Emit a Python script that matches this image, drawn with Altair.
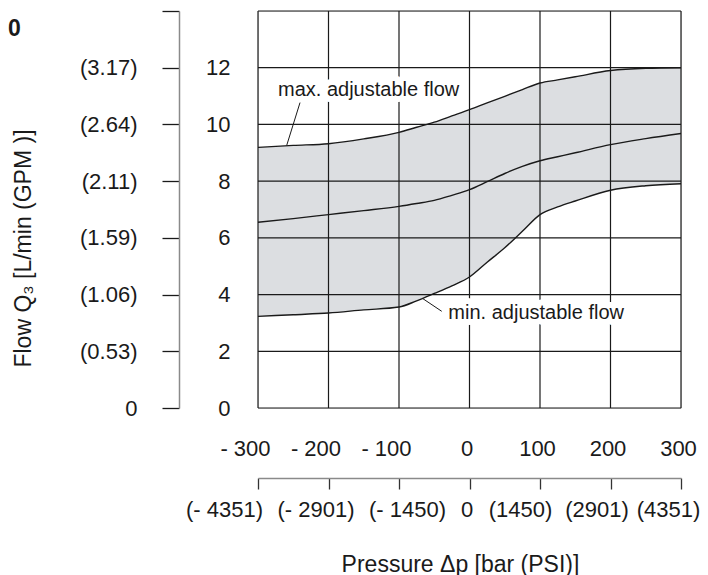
import json
import altair as alt
import pandas as pd

# ---------------- data ----------------
pressure_bar = [-300, -250, -200, -150, -100, -75, -50, -25, 0, 25, 50, 75, 100, 125, 150, 200, 250, 300]
flow_max = [9.19, 9.26, 9.32, 9.49, 9.72, 9.90, 10.08, 10.30, 10.52, 10.76, 10.99, 11.23, 11.46, 11.57, 11.68, 11.90, 11.98, 12.0]
flow_mid = [6.55, 6.68, 6.82, 6.96, 7.11, 7.21, 7.32, 7.50, 7.70, 7.98, 8.27, 8.52, 8.72, 8.86, 9.00, 9.29, 9.50, 9.68]
flow_min = [3.23, 3.29, 3.35, 3.46, 3.56, 3.78, 4.04, 4.31, 4.62, 5.14, 5.65, 6.23, 6.82, 7.09, 7.30, 7.68, 7.84, 7.91]

bar_ticks = [-300, -200, -100, 0, 100, 200, 300]
psi_labels = ["(- 4351)", "(- 2901)", "(- 1450)", "0", "(1450)", "(2901)", "(4351)"]
lmin_ticks = [0, 2, 4, 6, 8, 10, 12]
gpm_ticks = [0, 2, 4, 6, 8, 10, 12, 14]
gpm_labels = ["0", "(0.53)", "(1.06)", "(1.59)", "(2.11)", "(2.64)", "(3.17)", ""]
grid_x = [-300, -200, -100, 0, 100, 200, 300]
grid_y = [0, 2, 4, 6, 8, 10, 12, 14]

ann_text = ["max. adjustable flow", "min. adjustable flow"]
ann_x = [-271.6, -30.0]
ann_y = [11.23, 3.36]
leader_x1 = [-240.4, -66.4]
leader_y1 = [10.77, 3.86]
leader_x2 = [-259.3, -39.4]
leader_y2 = [9.26, 3.41]

# ---------------- style ----------------
FONT = "Liberation Sans"
INK = "#1a1a1a"
FILL = "#dcdee1"

df = pd.DataFrame({"p": pressure_bar, "qmin": flow_min, "qmid": flow_mid, "qmax": flow_max})
ann_df = pd.DataFrame({"t": ann_text, "x": ann_x, "y": ann_y})
lead_df = pd.DataFrame({"x1": leader_x1, "y1": leader_y1, "x2": leader_x2, "y2": leader_y2})
gx_df = pd.DataFrame({"gx": grid_x})
gy_df = pd.DataFrame({"gy": grid_y})

xs = alt.Scale(domain=[-300, 300], nice=False, zero=False)
ys = alt.Scale(domain=[0, 14], nice=False, zero=False)

bar_axis = alt.Axis(
    values=bar_ticks, ticks=False, domain=False, grid=False, title=None,
    labelExpr="datum.value < 0 ? '- ' + abs(datum.value) : '' + datum.value",
    labelPadding=30, labelFontSize=22, labelFont=FONT, labelColor=INK, labelAngle=0,
    labelOffset={"expr": "datum.value < 0 ? -13 : -3"}, labelOverlap=False, labelFlush=False,
)
lmin_axis = alt.Axis(
    values=lmin_ticks, ticks=False, domain=False, grid=False, title=None,
    labelPadding=28, labelFontSize=22, labelFont=FONT, labelColor=INK, labelOverlap=False,
    labelFlush=False,
)


def X(field):
    return alt.X(field, type="quantitative", scale=xs, axis=bar_axis)


def Y(field):
    return alt.Y(field, type="quantitative", scale=ys, axis=lmin_axis)


area = alt.Chart(df).mark_area(color=FILL, interpolate="monotone").encode(
    x=X("p"), y=Y("qmax"), y2="qmin:Q",
)

grid_v = alt.Chart(gx_df).mark_rule(color=INK, strokeWidth=1.2).encode(x=X("gx"))
grid_h = alt.Chart(gy_df).mark_rule(color=INK, strokeWidth=1.2).encode(y=Y("gy"))

lines = alt.Chart(df).transform_fold(["qmin", "qmid", "qmax"], as_=["series", "q"]).mark_line(
    interpolate="monotone", color=INK, strokeWidth=1.4
).encode(x=X("p"), y=Y("q"), detail="series:N")

leaders = alt.Chart(lead_df).mark_rule(color=INK, strokeWidth=1.0).encode(
    x=X("x1"), y=Y("y1"), x2="x2:Q", y2="y2:Q",
)

halo = alt.Chart(ann_df).mark_text(
    align="left", baseline="middle", font=FONT, fontSize=20, color="white",
    stroke="white", strokeWidth=12, strokeJoin="round",
).encode(x=X("x"), y=Y("y"), text="t:N")

labels = alt.Chart(ann_df).mark_text(
    align="left", baseline="middle", font=FONT, fontSize=20, color=INK,
).encode(x=X("x"), y=Y("y"), text="t:N")

inner = alt.layer(area, grid_v, grid_h, lines, leaders, halo, labels)

# second pair of axes (PSI / GPM)
psi_offsets = [-34, -13, 8, -3, -20, -14, -13]
psi_expr = json.dumps(psi_labels) + "[round((datum.value + 300) / 100)]"
psi_off_expr = json.dumps(psi_offsets) + "[round((datum.value + 300) / 100)]"
gpm_expr = json.dumps(gpm_labels) + "[round(datum.value / 2)]"

psi_axis = alt.Axis(
    orient="bottom", offset=70, values=bar_ticks, grid=False,
    labelExpr=psi_expr, labelOffset={"expr": psi_off_expr},
    domainColor="#8a8a8a", domainWidth=1.5, tickColor="#333333", tickWidth=1.3, tickSize=11,
    labelPadding=10, labelFontSize=22, labelFont=FONT, labelColor=INK, labelAngle=0,
    labelOverlap=False, labelFlush=False,
    title="Pressure \u0394p [bar (PSI)]", titleFont=FONT, titleFontSize=23, titleFontWeight="normal",
    titleColor=INK, titleX=202, titleY=86, titleBaseline="middle", titleAlign="center",
)
gpm_axis = alt.Axis(
    orient="left", offset=79, values=gpm_ticks, grid=False,
    labelExpr=gpm_expr,
    domainColor="#8a8a8a", domainWidth=1.5, tickColor=INK, tickWidth=1.3, tickSize=17,
    labelPadding=25, labelFontSize=22, labelFont=FONT, labelColor=INK,
    labelOverlap=False, labelFlush=False,
    title="Flow Q\u2083 [L/min (GPM )]", titleFont=FONT, titleFontSize=23, titleFontWeight="normal",
    titleColor=INK, titleX=-156, titleY=237, titleBaseline="middle", titleAlign="center", titleAngle=270,
)

axis_df = pd.DataFrame({"ax": bar_ticks, "ay": lmin_ticks})
outer_axes = alt.Chart(axis_df).mark_point(opacity=0, size=1).encode(
    x=alt.X("ax:Q", scale=alt.Scale(domain=[-300, 300], nice=False, zero=False), axis=psi_axis),
    y=alt.Y("ay:Q", scale=alt.Scale(domain=[0, 14], nice=False, zero=False), axis=gpm_axis),
)

chart = alt.layer(inner, outer_axes).resolve_scale(x="independent", y="independent").resolve_axis(
    x="independent", y="independent"
).properties(
    width=423, height=397,
    autosize=alt.AutoSizeParams(type="none"),
    padding={"left": 250, "top": 3, "right": 19, "bottom": 167},
    title=alt.Title("0", anchor="start", frame="group", fontSize=23, fontWeight="bold",
                    font=FONT, color=INK, dx=-250, dy=35, baseline="top", offset=-6),
).configure_view(stroke="#555555", strokeWidth=1.2).configure(font=FONT)

chart.save("out.html", embed_options={"renderer": "svg", "actions": False})
